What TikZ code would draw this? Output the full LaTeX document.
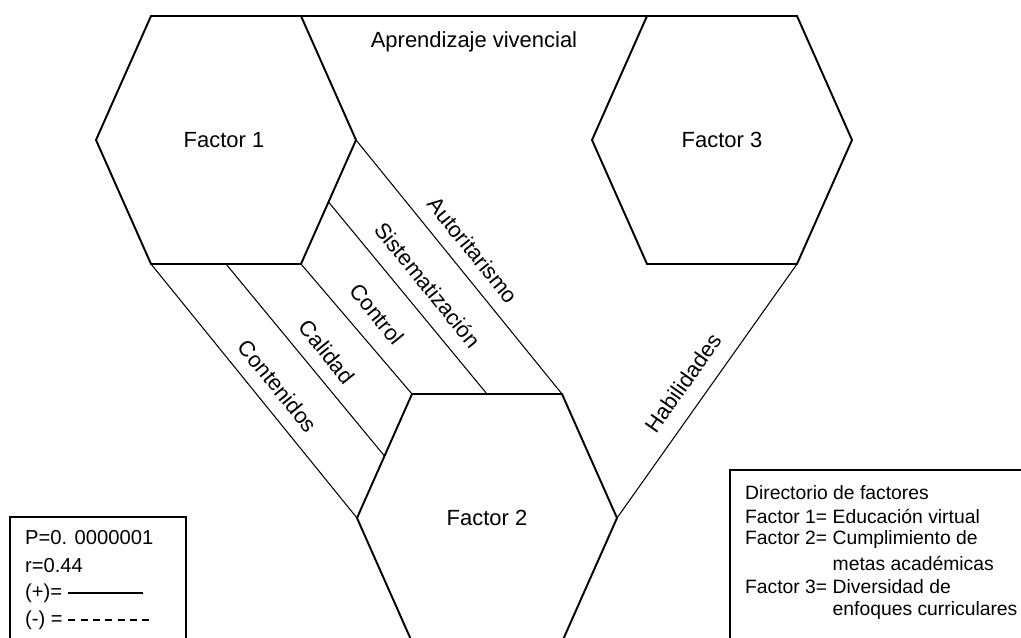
\documentclass[tikz,border=0pt]{standalone}
\usepackage{fontspec}
\setmainfont{Liberation Sans}
\usepackage{tikz}
\usetikzlibrary{calc}

\tikzset{
    hexline/.style={line width=1.1pt, line join=miter},
    band/.style={line width=0.6pt},
    boxline/.style={line width=1.1pt},
    dashline/.style={line width=1pt, dash pattern=on 4pt off 3pt},
    legend/.style={font=\fontsize{11.5}{13}\selectfont, anchor=west, inner sep=1pt},
    dirtext/.style={font=\fontsize{11}{13}\selectfont, anchor=west, inner sep=1pt}
}

\begin{document}
\begin{tikzpicture}[x=0.02cm, y=-0.02cm, every node/.style={font=\fontsize{12.5}{15}\selectfont}]
            \useasboundingbox (0,0) rectangle (1021,638);
            \clip (0,0) rectangle (1021,638);

            % Draw the three factor hexagons
            \begin{scope}[shift={(226,140)}]
                \draw[hexline] (-130,0) coordinate (f1-l) -- (-75,-124) coordinate (f1-tl)
                    -- (75,-124) coordinate (f1-tr) -- (130,0) coordinate (f1-r)
                    -- (75,124) coordinate (f1-br) -- (-75,124) coordinate (f1-bl) -- cycle;
                \node (f1) at (-2,0) {Factor 1};
            \end{scope}

            \begin{scope}[shift={(487,518)}]
                \draw[hexline] (-130,0) coordinate (f2-l) -- (-75,-124) coordinate (f2-tl)
                    -- (75,-124) coordinate (f2-tr) -- (130,0) coordinate (f2-r)
                    -- (75,124) coordinate (f2-br) -- (-75,124) coordinate (f2-bl) -- cycle;
                \node (f2) at (0,0) {Factor 2};
            \end{scope}

            \begin{scope}[shift={(722,140)}]
                \draw[hexline] (-130,0) coordinate (f3-l) -- (-75,-124) coordinate (f3-tl)
                    -- (75,-124) coordinate (f3-tr) -- (130,0) coordinate (f3-r)
                    -- (75,124) coordinate (f3-br) -- (-75,124) coordinate (f3-bl) -- cycle;
                \node (f3) at (0,0) {Factor 3};
            \end{scope}

            % Midpoints of the sides that the bands start from
            \coordinate (f1-b) at ($(f1-bl)!0.5!(f1-br)$);
            \coordinate (f1-rb) at ($(f1-r)!0.5!(f1-br)$);
            \coordinate (f2-t) at ($(f2-tl)!0.5!(f2-tr)$);
            \coordinate (f2-lt) at ($(f2-l)!0.5!(f2-tl)$);

            % Draw the bands between the factors
            \draw[band] (f1-bl) -- (f2-l);
            \draw[band] (f1-b) -- (f2-lt);
            \draw[band] (f1-br) -- (f2-tl);
            \draw[band] (f1-rb) -- (f2-t);
            \draw[band] (f1-r) -- (f2-tr);
            \draw[band] (f1-tr) -- (f3-tl);
            \draw[band] (f3-br) -- (f2-r);

            % Band labels
            \node (apr) at (474,42) {Aprendizaje vivencial};
            \node[rotate=-51] (cont) at (278,386) {Contenidos};
            \node[rotate=-51] (cal) at (327,352) {Calidad};
            \node[rotate=-51] (ctrl) at (377,314) {Control};
            \node[rotate=-51] (sist) at (428,285) {Sistematización};
            \node[rotate=-51] (auto) at (473,250) {Autoritarismo};
            \node[rotate=55] (hab) at (683,383) {Habilidades};

            % Draw the P, r legend
            \draw[boxline] (10,517) rectangle (186,660);
            \node[legend] (pval) at (23,538) {P=0. 0000001};
            \node[legend] (rval) at (23,566) {r=0.44};
            \node[legend] (plus) at (23,593) {(+)=};
            \node[legend] (minus) at (23,620) {(-) =};
            \coordinate (plus-end) at (143,0);
            \coordinate (minus-end) at (152,0);
            \draw[band] ([xshift=2pt]plus.east) -- (plus.east -| plus-end);
            \draw[dashline] ([xshift=2pt]minus.east) -- (minus.east -| minus-end);

            % Draw the directory of factors
            \draw[boxline] (730,470) rectangle (1040,660);
            \node[dirtext] (dir0) at (743,493) {Directorio de factores};
            \node[dirtext] (dir1) at (743,516) {Factor 1= Educación virtual};
            \node[dirtext] (dir2) at (743,540) {Factor 2= Cumplimiento de};
            \node[dirtext] (dir3) at (743,563) {\phantom{Factor 2= }metas académicas};
            \node[dirtext] (dir4) at (743,587) {Factor 3= Diversidad de};
            \node[dirtext] (dir5) at (743,611) {\phantom{Factor 3= }enfoques curriculares};

        \end{tikzpicture}
\end{document}
